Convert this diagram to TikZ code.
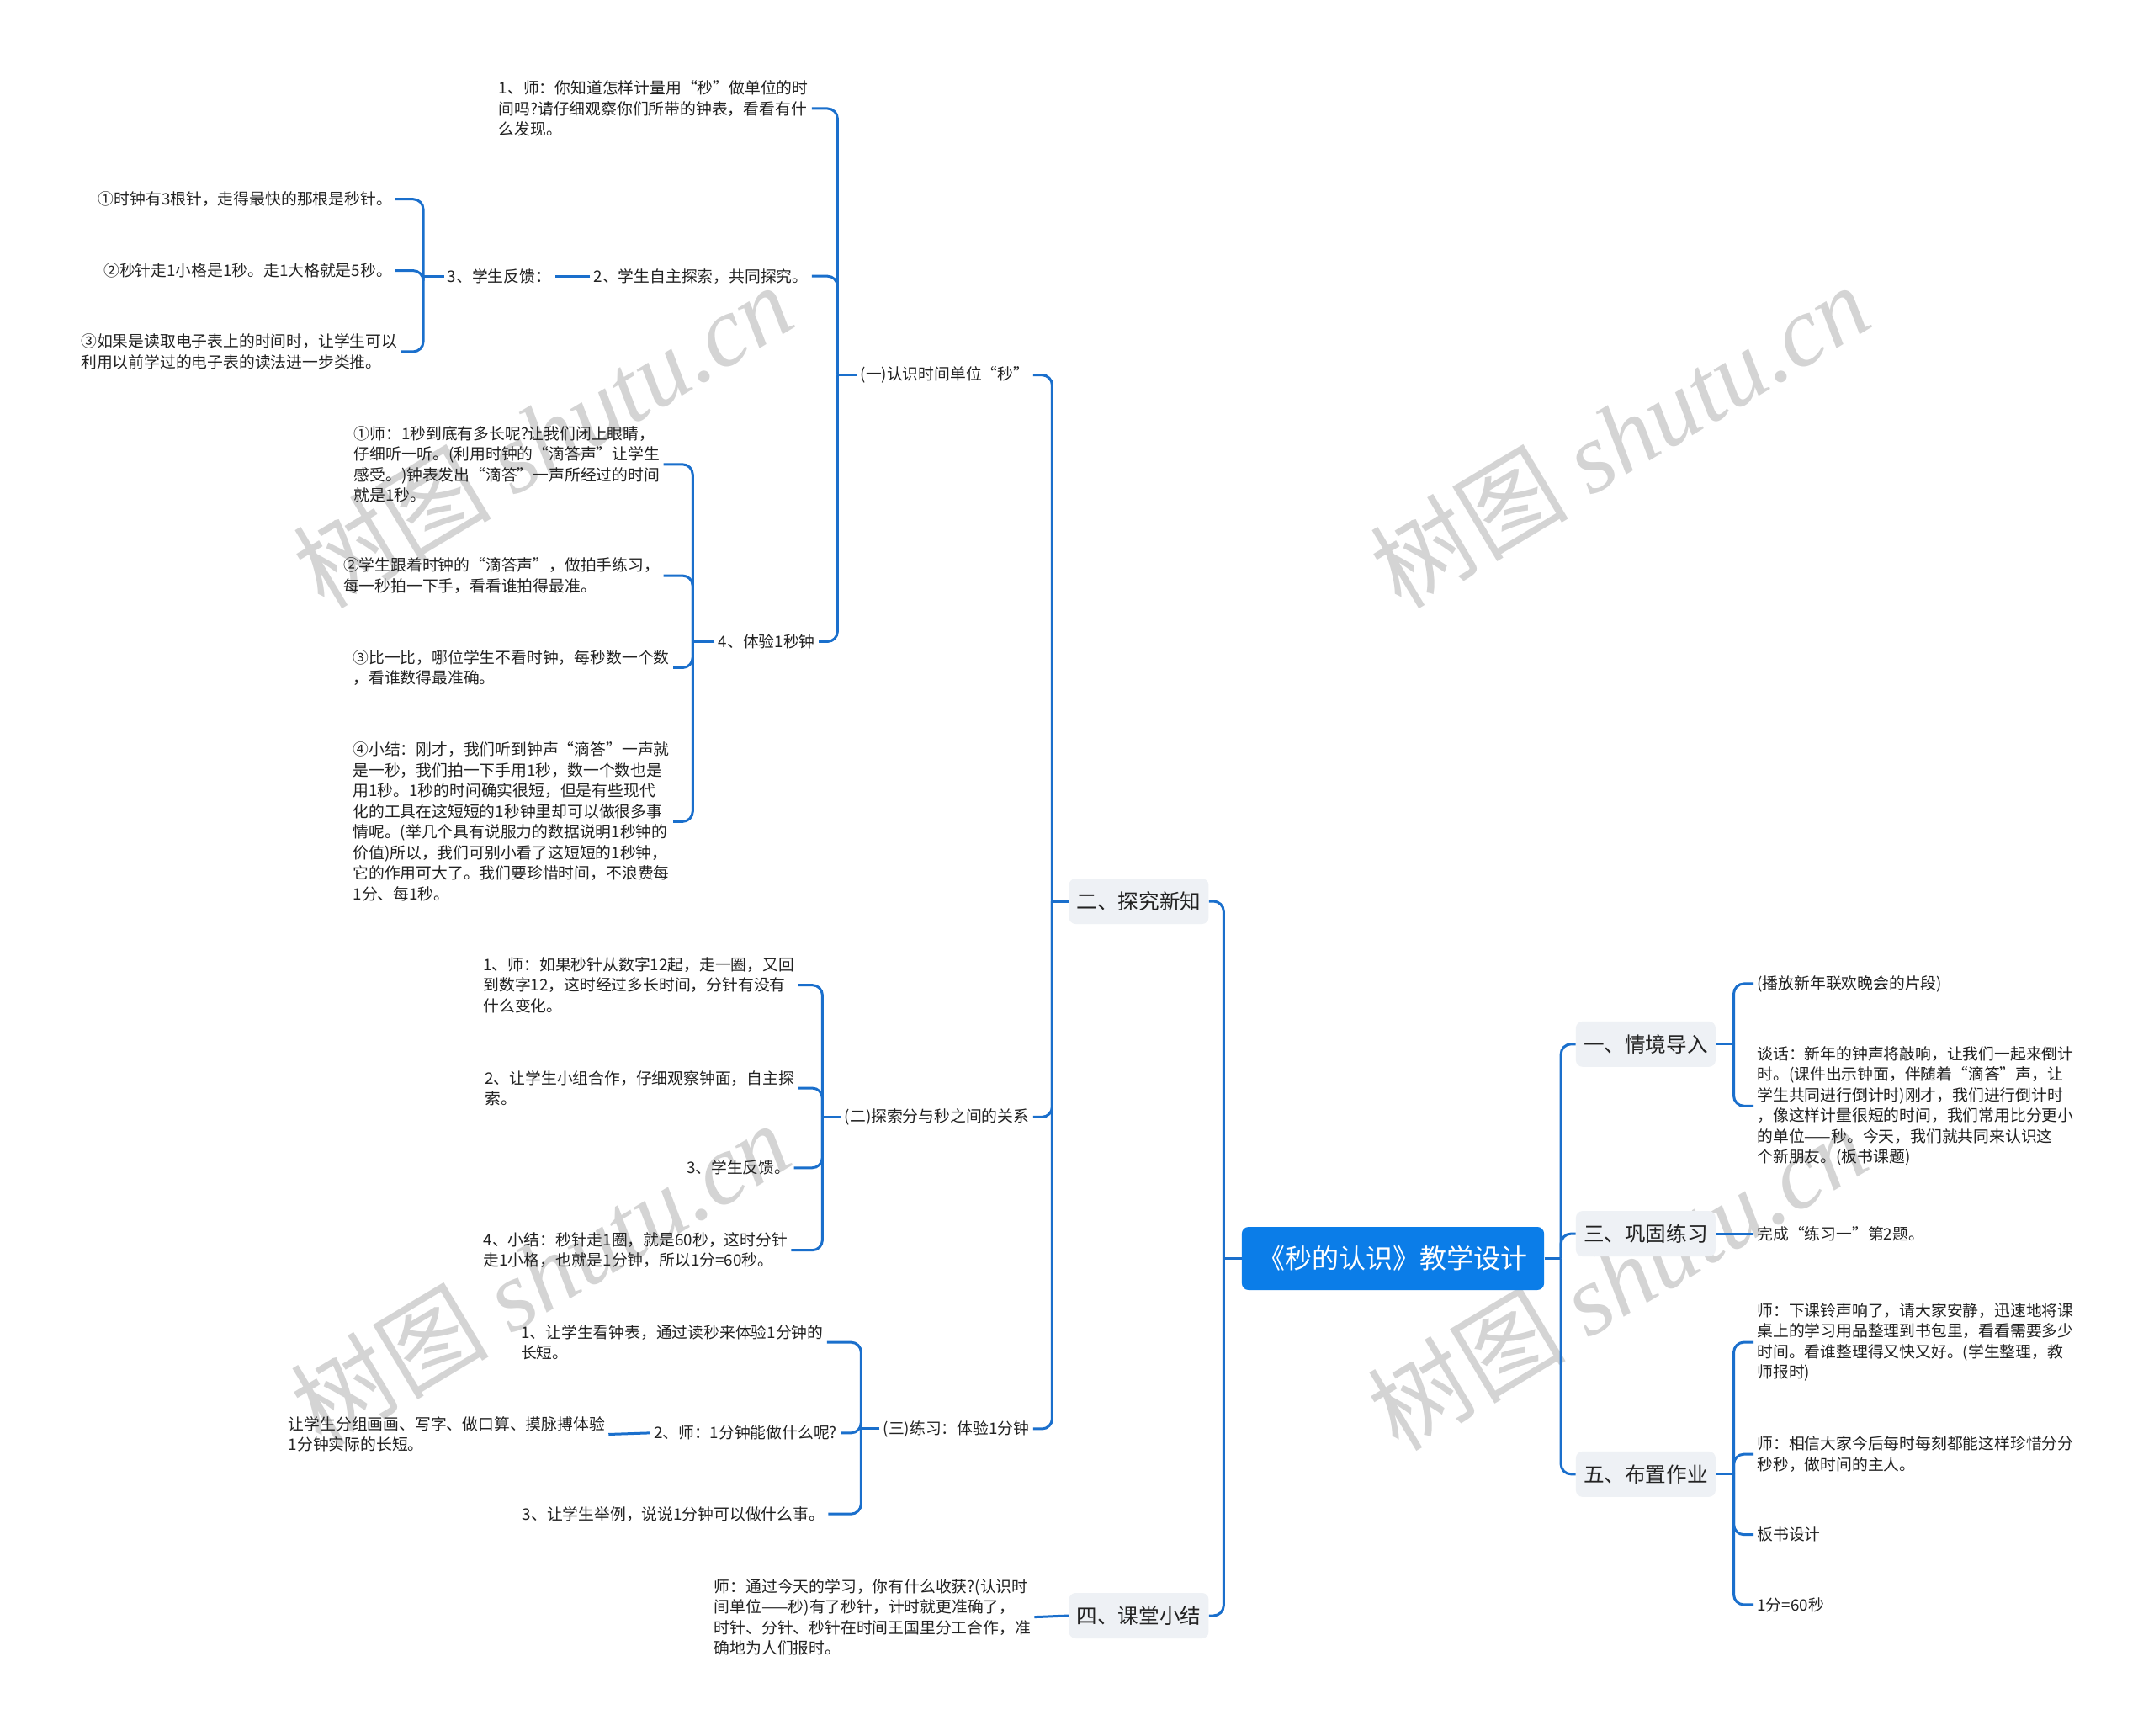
\documentclass[tikz,border=0pt]{standalone}
\usepackage{fontspec}
\setmainfont{Noto Sans CJK SC}
\newfontfamily\wmlatin{Liberation Serif}
\usetikzlibrary{positioning}
\definecolor{rootblue}{HTML}{0B7DE8}
\definecolor{lineblue}{HTML}{1A6FCC}
\definecolor{boxgray}{HTML}{EEF1F5}
\definecolor{textc}{HTML}{222222}
\definecolor{wmgray}{HTML}{D4D4D4}
\tikzset{
  conn/.style={draw=lineblue, line width=1.5pt, rounded corners=6pt},
  txt/.style={font=\fontsize{9.4}{12.24}\selectfont, text=textc, inner sep=2pt, align=left},
  lvl/.style={fill=boxgray, rounded corners=4pt, font=\fontsize{12.3}{14}\selectfont, text=textc,
              minimum width=83pt, minimum height=27pt, inner sep=2pt},
  rootbox/.style={fill=rootblue, rounded corners=4pt, font=\fontsize{16}{18}\selectfont, text=white,
              minimum width=179.6pt, minimum height=37.5pt, inner sep=2pt},
  wm/.style={text=wmgray, font=\fontsize{59}{62}\selectfont, inner sep=0pt}
}
\begin{document}
\begin{tikzpicture}[x=0.8163pt, y=-0.8163pt]
\useasboundingbox[fill=white] (0,0) rectangle (1568,1263);

% watermarks
\node[wm, rotate=31] (wm1) at (395,317) {树图 {\wmlatin\itshape shutu.cn}};
\node[wm, rotate=31] (wm2) at (1179,317) {树图 {\wmlatin\itshape shutu.cn}};
\node[wm, rotate=31] (wm3) at (393,927) {树图 {\wmlatin\itshape shutu.cn}};
\node[wm, rotate=31] (wm4) at (1177,930) {树图 {\wmlatin\itshape shutu.cn}};

% root and level 1
\node[rootbox] (root) at (1014,916) {《秒的认识》教学设计};
\node[lvl] (n2) at (829,656) {二、探究新知};
\node[lvl] (n4) at (829,1176) {四、课堂小结};
\node[lvl] (n1) at (1198,760) {一、情境导入};
\node[lvl] (n3) at (1198,898) {三、巩固练习};
\node[lvl] (n5) at (1198,1073) {五、布置作业};

% level 2 left
\node[txt, anchor=east] (a1) at (752,273) {(一)认识时间单位“秒”};
\node[txt, anchor=east] (a2) at (752,813) {(二)探索分与秒之间的关系};
\node[txt, anchor=east] (a3) at (752,1040) {(三)练习：体验1分钟};

% (一) children
\node[txt, anchor=east] (b1) at (591,79) {1、师：你知道怎样计量用“秒”做单位的时\\间吗?请仔细观察你们所带的钟表，看看有什\\么发现。};
\node[txt, anchor=east] (b2) at (591,201) {2、学生自主探索，共同探究。};
\node[txt, anchor=east] (b3) at (596,467) {4、体验1秒钟};
\node[txt, anchor=east] (c1) at (404,201) {3、学生反馈：};
\node[txt, anchor=east] (d1) at (288,145) {①时钟有3根针，走得最快的那根是秒针。};
\node[txt, anchor=east] (d2) at (288,197) {②秒针走1小格是1秒。走1大格就是5秒。};
\node[txt, anchor=east] (d3) at (292,256) {③如果是读取电子表上的时间时，让学生可以\\利用以前学过的电子表的读法进一步类推。};
\node[txt, anchor=east] (e1) at (483,338) {①师：1秒到底有多长呢?让我们闭上眼睛，\\仔细听一听。(利用时钟的“滴答声”让学生\\感受。)钟表发出“滴答”一声所经过的时间\\就是1秒。};
\node[txt, anchor=east] (e2) at (483,419) {②学生跟着时钟的“滴答声”，做拍手练习，\\每一秒拍一下手，看看谁拍得最准。};
\node[txt, anchor=east] (e3) at (490,486) {③比一比，哪位学生不看时钟，每秒数一个数\\，看谁数得最准确。};
\node[txt, anchor=east] (e4) at (490,598) {④小结：刚才，我们听到钟声“滴答”一声就\\是一秒，我们拍一下手用1秒，数一个数也是\\用1秒。1秒的时间确实很短，但是有些现代\\化的工具在这短短的1秒钟里却可以做很多事\\情呢。(举几个具有说服力的数据说明1秒钟的\\价值)所以，我们可别小看了这短短的1秒钟，\\它的作用可大了。我们要珍惜时间，不浪费每\\1分、每1秒。};

% (二) children
\node[txt, anchor=east] (f1) at (581,717) {1、师：如果秒针从数字12起，走一圈，又回\\到数字12，这时经过多长时间，分针有没有\\什么变化。};
\node[txt, anchor=east] (f2) at (581,792) {2、让学生小组合作，仔细观察钟面，自主探\\索。};
\node[txt, anchor=east] (f3) at (578,850) {3、学生反馈。};
\node[txt, anchor=east] (f4) at (576,910) {4、小结：秒针走1圈，就是60秒，这时分针\\走1小格，也就是1分钟，所以1分=60秒。};

% (三) children
\node[txt, anchor=east] (g1) at (602,977) {1、让学生看钟表，通过读秒来体验1分钟的\\长短。};
\node[txt, anchor=east] (g2) at (612,1043) {2、师：1分钟能做什么呢?};
\node[txt, anchor=east] (g3) at (603,1102) {3、让学生举例，说说1分钟可以做什么事。};
\node[txt, anchor=east] (h1) at (443,1044) {让学生分组画画、写字、做口算、摸脉搏体验\\1分钟实际的长短。};

% 四 child
\node[txt, anchor=east] (i1) at (753,1177) {师：通过今天的学习，你有什么收获?(认识时\\间单位——秒)有了秒针，计时就更准确了，\\时针、分针、秒针在时间王国里分工合作，准\\确地为人们报时。};

% right side children
\node[txt, anchor=west] (j1) at (1276.5,716) {(播放新年联欢晚会的片段)};
\node[txt, anchor=west] (j2) at (1276.5,805) {谈话：新年的钟声将敲响，让我们一起来倒计\\时。(课件出示钟面，伴随着“滴答”声，让\\学生共同进行倒计时)刚才，我们进行倒计时\\，像这样计量很短的时间，我们常用比分更小\\的单位——秒。今天，我们就共同来认识这\\个新朋友。(板书课题)};
\node[txt, anchor=west] (k1) at (1276.5,898) {完成“练习一”第2题。};
\node[txt, anchor=west] (l1) at (1276.5,977) {师：下课铃声响了，请大家安静，迅速地将课\\桌上的学习用品整理到书包里，看看需要多少\\时间。看谁整理得又快又好。(学生整理，教\\师报时)};
\node[txt, anchor=west] (l2) at (1276.5,1058.5) {师：相信大家今后每时每刻都能这样珍惜分分\\秒秒，做时间的主人。};
\node[txt, anchor=west] (l3) at (1276.5,1117) {板书设计};
\node[txt, anchor=west] (l4) at (1276.5,1168) {1分=60秒};

% connectors: root
\draw[conn] (root.west) -- ++(-13,0);
\draw[conn] (root.west) ++(-13,0) |- (n2.east);
\draw[conn] (root.west) ++(-13,0) |- (n4.east);
\draw[conn] (root.east) -- ++(12,0);
\draw[conn] (root.east) ++(12,0) |- (n1.west);
\draw[conn] (root.east) ++(12,0) |- (n3.west);
\draw[conn] (root.east) ++(12,0) |- (n5.west);

% 二
\draw[conn] (n2.west) -- ++(-12,0);
\draw[conn] (n2.west) ++(-12,0) |- (a1.east);
\draw[conn] (n2.west) ++(-12,0) |- (a2.east);
\draw[conn] (n2.west) ++(-12,0) |- (a3.east);

% (一)
\draw[conn] (a1.west) -- ++(-14,0);
\draw[conn] (a1.west) ++(-14,0) |- (b1.east);
\draw[conn] (a1.west) ++(-14,0) |- (b2.east);
\draw[conn] (a1.west) ++(-14,0) |- (b3.east);
\draw[conn] (b2.west) -- (c1.east);
\draw[conn] (c1.west) -- ++(-15,0);
\draw[conn] (c1.west) ++(-15,0) |- (d1.east);
\draw[conn] (c1.west) ++(-15,0) |- (d2.east);
\draw[conn] (c1.west) ++(-15,0) |- (d3.east);
\draw[conn] (b3.west) -- ++(-16,0);
\draw[conn] (b3.west) ++(-16,0) |- (e1.east);
\draw[conn] (b3.west) ++(-16,0) |- (e2.east);
\draw[conn] (b3.west) ++(-16,0) |- (e3.east);
\draw[conn] (b3.west) ++(-16,0) |- (e4.east);

% (二)
\draw[conn] (a2.west) -- ++(-13.5,0);
\draw[conn] (a2.west) ++(-13.5,0) |- (f1.east);
\draw[conn] (a2.west) ++(-13.5,0) |- (f2.east);
\draw[conn] (a2.west) ++(-13.5,0) |- (f3.east);
\draw[conn] (a2.west) ++(-13.5,0) |- (f4.east);

% (三)
\draw[conn] (a3.west) -- ++(-13.5,0);
\draw[conn] (a3.west) ++(-13.5,0) |- (g1.east);
\draw[conn] (a3.west) ++(-13.5,0) |- (g2.east);
\draw[conn] (a3.west) ++(-13.5,0) |- (g3.east);
\draw[conn] (g2.west) -- (h1.east);

% 四
\draw[conn] (n4.west) -- (i1.east);

% right
\draw[conn] (n1.east) -- ++(13,0);
\draw[conn] (n1.east) ++(13,0) |- (j1.west);
\draw[conn] (n1.east) ++(13,0) |- (j2.west);
\draw[conn] (n3.east) -- (k1.west);
\draw[conn] (n5.east) -- ++(13,0);
\draw[conn] (n5.east) ++(13,0) |- (l1.west);
\draw[conn] (n5.east) ++(13,0) |- (l2.west);
\draw[conn] (n5.east) ++(13,0) |- (l3.west);
\draw[conn] (n5.east) ++(13,0) |- (l4.west);
\end{tikzpicture}
\end{document}
